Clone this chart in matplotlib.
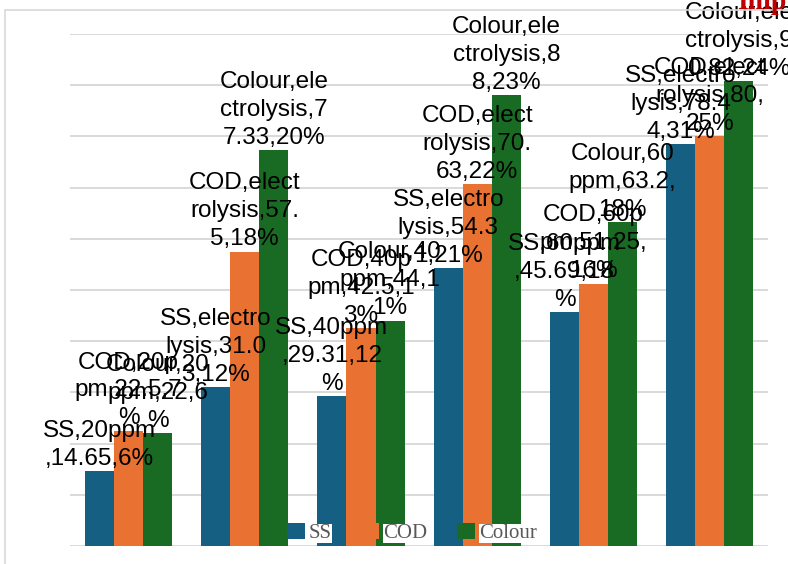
import numpy as np
import matplotlib.pyplot as plt
from matplotlib.patches import Patch, Rectangle
from matplotlib.font_manager import FontProperties, findfont
from matplotlib.ft2font import FT2Font, LoadFlags

# data
categories = ["20ppm", "electrolysis", "40ppm", "electrolysis", "60ppm", "electrolysis"]
series_names = ["SS", "COD", "Colour"]
ss_vals = [14.65, 31.03, 29.31, 54.31, 45.69, 78.44]
cod_vals = [22.5, 57.5, 42.5, 70.63, 51.25, 80]
colour_vals = [22, 77.33, 44, 88, 63.2, 90.82]
ss_pct = [6, 12, 12, 21, 18, 31]
cod_pct = [7, 18, 13, 22, 16, 25]
colour_pct = [6, 20, 11, 23, 18, 24]
colors = ["#156082", "#E97132", "#196B24"]

W, H = 788, 564
fig = plt.figure(figsize=(W / 100, H / 100), dpi=100)
ax = fig.add_axes([70.3 / W, 18 / H, 697.7 / W, 512 / H])

lab_font = FontProperties(family="Liberation Sans", size=17.5)
ft = FT2Font(findfont(lab_font))
ft.set_size(100, 72)


def em_width(s):
    # advance width of a string in em units (like excel does when wrapping)
    return sum(ft.load_char(ord(c), flags=LoadFlags.NO_HINTING).linearHoriAdvance / 65536 / 100 for c in s)


def wrap_label(text, max_em=4.70):
    lines, cur = [], ""
    for ch in text:
        if cur and em_width(cur + ch) > max_em:
            lines.append(cur)
            cur = ch
        else:
            cur += ch
    lines.append(cur)
    return "\n".join(lines)


x = np.arange(len(categories))
w = 0.25
all_vals = [ss_vals, cod_vals, colour_vals]
all_pct = [ss_pct, cod_pct, colour_pct]

for i in range(3):
    bars = ax.bar(x + (i - 1) * w, all_vals[i], w, color=colors[i], zorder=2)
    for b, v, p, cat in zip(bars, all_vals[i], all_pct[i], categories):
        txt = wrap_label(f"{series_names[i]},{cat},{v:g},{p}%")
        ax.annotate(txt, (b.get_x() + b.get_width() / 2, b.get_height()),
                    xytext=(0, 1), textcoords="offset points",
                    ha="center", va="bottom", multialignment="center",
                    fontproperties=lab_font, linespacing=1.35, color="black", zorder=4)

ax.set_xlim(-0.5, 5.5)
ax.set_ylim(0, 100)
ax.set_yticks(np.arange(0, 101, 10))
ax.yaxis.grid(True, color="#d9d9d9", lw=1.4)
ax.set_axisbelow(True)
ax.tick_params(left=False, bottom=False, labelleft=False, labelbottom=False)
for s in ax.spines.values():
    s.set_visible(False)

handles = [Patch(facecolor=c, edgecolor="none") for c in colors]
leg = ax.legend(handles, series_names, loc="center",
                bbox_to_anchor=(412 / W, 1 - 533 / H), bbox_transform=fig.transFigure,
                ncol=3, frameon=False,
                prop=FontProperties(family="Liberation Serif", size=15),
                labelcolor="#595959", handlelength=0.82, handleheight=0.85,
                handletextpad=0.2, columnspacing=1.45, borderpad=0)
for t in leg.get_texts():
    t.set_bbox(dict(facecolor="white", edgecolor="none", pad=0))

# chart border and the cut-off heading above it
fig.patches.append(Rectangle((5 / W, -0.1), 1.2, 1.1 - 10 / H, transform=fig.transFigure,
                             fill=False, edgecolor="#d9d9d9", lw=1.2))
fig.text(737 / W, 1 - 9 / H, "Imp", color="#c00000", fontweight="bold",
         family="Liberation Serif", fontsize=20, va="baseline")

fig.savefig("out.png", dpi=100)
